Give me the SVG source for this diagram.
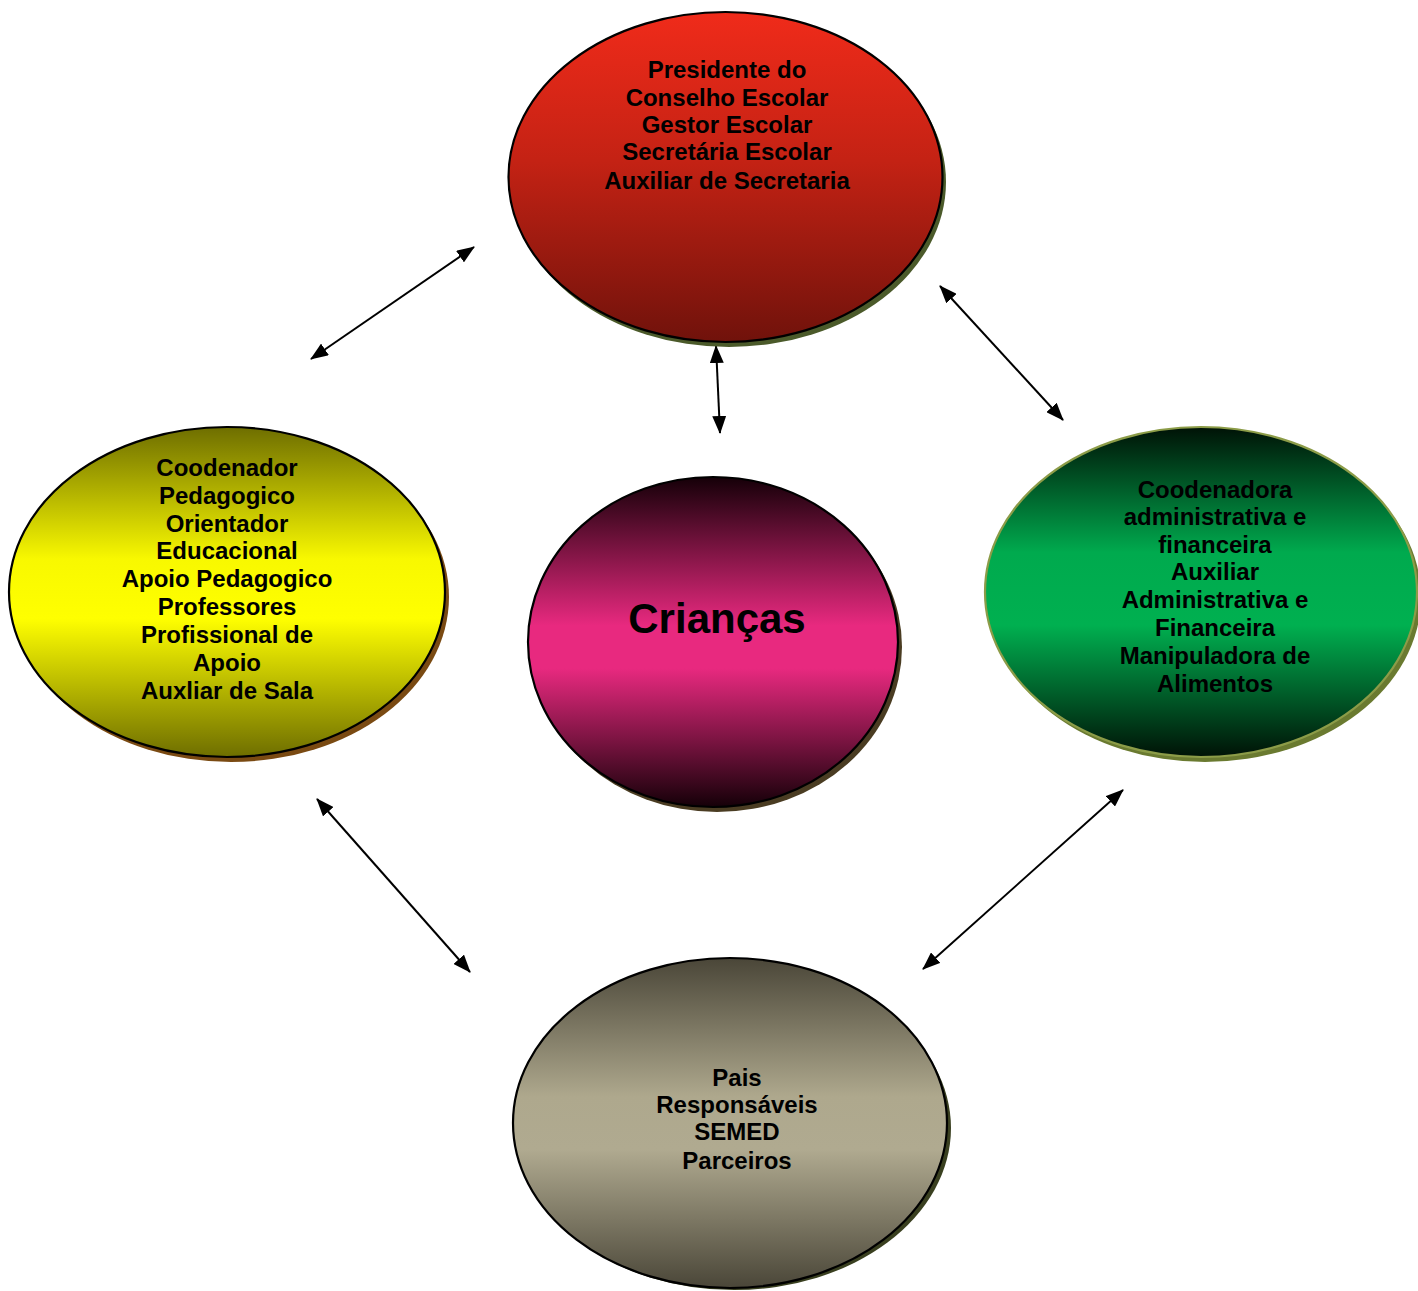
<svg xmlns="http://www.w3.org/2000/svg" width="1418" height="1291" viewBox="0 0 1418 1291">
<style>
  .lbl { font-family: "Liberation Sans", Arial, sans-serif; font-weight: bold; font-size: 24px; fill: #000; text-anchor: middle; }
  .big { font-size: 42px; }
  .edge { stroke: #000; stroke-width: 2; fill: none; marker-start: url(#ah); marker-end: url(#ah); }
  .blk { stroke: #000; stroke-width: 2.2; }
</style>
<defs>
  <marker id="ah" viewBox="0 0 18 14" markerWidth="18" markerHeight="14" refX="17" refY="7" orient="auto-start-reverse" markerUnits="userSpaceOnUse">
    <path d="M0,0 L18,7 L0,14 z" fill="#000"/>
  </marker>
  <linearGradient id="gRed" x1="0" y1="0" x2="0" y2="1">
    <stop offset="0" stop-color="#f02b1a"/>
    <stop offset="0.45" stop-color="#c42214"/>
    <stop offset="1" stop-color="#70120b"/>
  </linearGradient>
  <linearGradient id="gYel" x1="0" y1="0" x2="0" y2="1">
    <stop offset="0" stop-color="#6e6e00"/>
    <stop offset="0.4" stop-color="#f8f800"/>
    <stop offset="0.58" stop-color="#ffff00"/>
    <stop offset="1" stop-color="#6e6e00"/>
  </linearGradient>
  <linearGradient id="gGrn" x1="0" y1="0" x2="0" y2="1">
    <stop offset="0" stop-color="#001206"/>
    <stop offset="0.38" stop-color="#00aa4e"/>
    <stop offset="0.6" stop-color="#00b050"/>
    <stop offset="1" stop-color="#001206"/>
  </linearGradient>
  <linearGradient id="gPnk" x1="0" y1="0" x2="0" y2="1">
    <stop offset="0" stop-color="#150008"/>
    <stop offset="0.45" stop-color="#e8297f"/>
    <stop offset="0.58" stop-color="#e8297f"/>
    <stop offset="1" stop-color="#150008"/>
  </linearGradient>
  <linearGradient id="gGry" x1="0" y1="0" x2="0" y2="1">
    <stop offset="0" stop-color="#4a4638"/>
    <stop offset="0.42" stop-color="#aea88d"/>
    <stop offset="0.58" stop-color="#b0aa90"/>
    <stop offset="1" stop-color="#4a4638"/>
  </linearGradient>
</defs>

<g id="connectors">
  <line class="edge" x1="311" y1="359" x2="474" y2="247"/>
  <line class="edge" x1="716" y1="346" x2="720" y2="433"/>
  <line class="edge" x1="940" y1="286" x2="1063" y2="420"/>
  <line class="edge" x1="317" y1="799" x2="470" y2="972"/>
  <line class="edge" x1="1123" y1="790" x2="923" y2="969"/>
</g>

<g id="node-gestao">
  <ellipse cx="729" cy="182" rx="217" ry="165" fill="#4b5a2a"/>
  <ellipse class="blk" cx="725.5" cy="177" rx="217" ry="165" fill="url(#gRed)"/>
  <text class="lbl" x="727" y="78">Presidente do</text>
  <text class="lbl" x="727" y="106">Conselho Escolar</text>
  <text class="lbl" x="727" y="133">Gestor Escolar</text>
  <text class="lbl" x="727" y="160">Secretária Escolar</text>
  <text class="lbl" x="727" y="189">Auxiliar de Secretaria</text>
</g>

<g id="node-pedagogico">
  <ellipse cx="231" cy="597" rx="218" ry="165" fill="#7a4a12"/>
  <ellipse class="blk" cx="227" cy="592" rx="218" ry="165" fill="url(#gYel)"/>
  <text class="lbl" x="227" y="476">Coodenador</text>
  <text class="lbl" x="227" y="504">Pedagogico</text>
  <text class="lbl" x="227" y="532">Orientador</text>
  <text class="lbl" x="227" y="559">Educacional</text>
  <text class="lbl" x="227" y="587">Apoio Pedagogico</text>
  <text class="lbl" x="227" y="615">Professores</text>
  <text class="lbl" x="227" y="643">Profissional de</text>
  <text class="lbl" x="227" y="671">Apoio</text>
  <text class="lbl" x="227" y="699">Auxliar de Sala</text>
</g>

<g id="node-administrativo">
  <ellipse cx="1205" cy="597" rx="216" ry="165" fill="#6a7a30"/>
  <ellipse cx="1201" cy="592" rx="216" ry="165" fill="url(#gGrn)" stroke="#8c9c48" stroke-width="2.2"/>
  <text class="lbl" x="1215" y="498">Coodenadora</text>
  <text class="lbl" x="1215" y="525">administrativa e</text>
  <text class="lbl" x="1215" y="553">financeira</text>
  <text class="lbl" x="1215" y="580">Auxiliar</text>
  <text class="lbl" x="1215" y="608">Administrativa e</text>
  <text class="lbl" x="1215" y="636">Financeira</text>
  <text class="lbl" x="1215" y="664">Manipuladora de</text>
  <text class="lbl" x="1215" y="692">Alimentos</text>
</g>

<g id="node-criancas">
  <ellipse cx="717" cy="647" rx="185" ry="165" fill="#4a3c22"/>
  <ellipse class="blk" cx="713" cy="642" rx="185" ry="165" fill="url(#gPnk)"/>
  <text class="lbl big" x="717" y="633">Crianças</text>
</g>

<g id="node-comunidade">
  <ellipse cx="734" cy="1128" rx="217" ry="162" fill="#3a4020"/>
  <ellipse class="blk" cx="730" cy="1123" rx="217" ry="165" fill="url(#gGry)"/>
  <text class="lbl" x="737" y="1086">Pais</text>
  <text class="lbl" x="737" y="1113">Responsáveis</text>
  <text class="lbl" x="737" y="1140">SEMED</text>
  <text class="lbl" x="737" y="1169">Parceiros</text>
</g>
</svg>
